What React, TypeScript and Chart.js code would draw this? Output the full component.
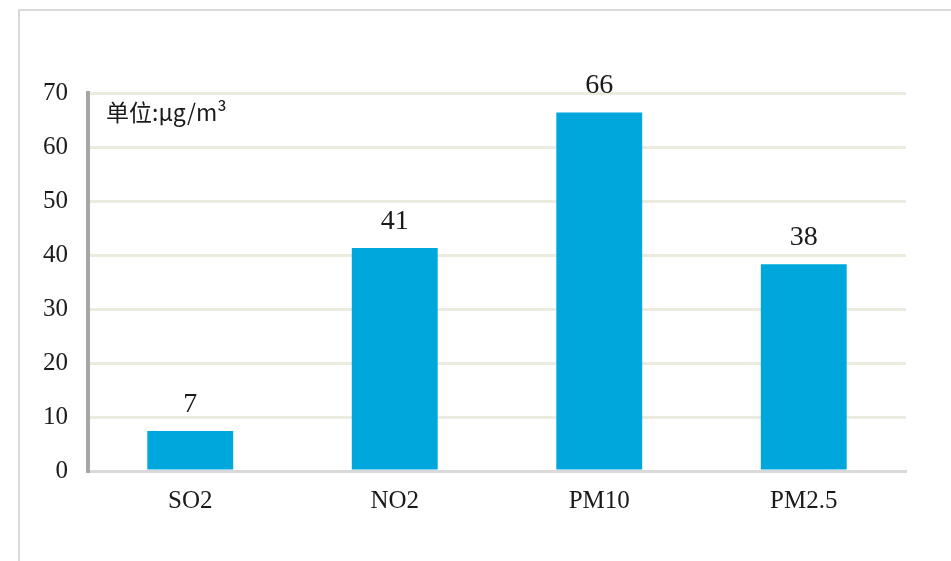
import React, { useEffect, useRef } from "react";
import { Chart, registerables } from "chart.js";

Chart.register(...registerables);

const categories = ["SO2", "NO2", "PM10", "PM2.5"];
const values = [7.4, 41.3, 66.4, 38.3];
const yTicks = [0, 10, 20, 30, 40, 50, 60, 70];
const unitLabel = "单位:μg/m³";

const SERIF = "'Liberation Serif', 'DejaVu Serif', serif";

const framePlugin = {
  id: "frame",
  beforeDraw(chart: any) {
    const ctx = chart.ctx;
    ctx.save();
    ctx.strokeStyle = "#d9d9d9";
    ctx.lineWidth = 2;
    ctx.strokeRect(19, 10, 960, 600);
    ctx.restore();
  },
};

const labelPlugin = {
  id: "barLabels",
  afterDatasetsDraw(chart: any) {
    const ctx = chart.ctx;
    const meta = chart.getDatasetMeta(0);
    ctx.save();
    ctx.fillStyle = "#1a1a1a";
    ctx.font = `28px ${SERIF}`;
    ctx.textAlign = "center";
    ctx.textBaseline = "alphabetic";
    meta.data.forEach((bar: any, i: number) => {
      ctx.fillText(String(Math.round(values[i])), bar.x, bar.y - 19);
    });
    // unit label
    const a = chart.chartArea;
    ctx.textAlign = "left";
    ctx.textBaseline = "middle";
    ctx.font = `23px 'Noto Sans CJK SC', 'Noto Sans', sans-serif`;
    ctx.fillStyle = "#1a1a1a";
    ctx.fillText(unitLabel, a.left + 18, a.top + 19);
    ctx.restore();
  },
};

export default function App() {
  const ref = useRef<HTMLCanvasElement | null>(null);
  useEffect(() => {
    if (!ref.current) return;
    const chart = new Chart(ref.current, {
      type: "bar",
      data: {
        labels: categories,
        datasets: [
          {
            data: values,
            backgroundColor: "#00a7dd",
            barPercentage: 0.42,
            categoryPercentage: 1,
          },
        ],
      },
      options: {
        animation: false,
        responsive: false,
        layout: { padding: { left: 0, right: 45, top: 93, bottom: 0 } },
        plugins: { legend: { display: false }, tooltip: { enabled: false } },
        scales: {
          x: {
            grid: { display: false, drawTicks: false },
            border: { color: "#d9d9d9", width: 3 },
            ticks: {
              color: "#1a1a1a",
              font: { family: SERIF, size: 25 },
              padding: 15,
            },
            afterFit(scale: any) {
              scale.height = 90;
            },
          },
          y: {
            min: 0,
            max: 70,
            afterBuildTicks(scale: any) {
              scale.ticks = yTicks.map((v) => ({ value: v }));
            },
            grid: {
              color: (c: any) => (c.tick && c.tick.value === 0 ? "rgba(0,0,0,0)" : "#ecebdf"),
              lineWidth: 3,
              drawTicks: false,
            },
            border: { color: "#a6a6a6", width: 4 },
            ticks: {
              color: "#1a1a1a",
              font: { family: SERIF, size: 25 },
              padding: 20,
            },
            afterFit(scale: any) {
              scale.width = 88;
            },
          },
        },
      },
      plugins: [framePlugin, labelPlugin],
    });
    return () => chart.destroy();
  }, []);
  return (
    <div style={{ position: "fixed", left: 0, top: 0, width: 951, height: 561, background: "#fff" }}>
      <canvas ref={ref} width={951} height={561} style={{ width: 951, height: 561, display: "block" }} />
    </div>
  );
}
